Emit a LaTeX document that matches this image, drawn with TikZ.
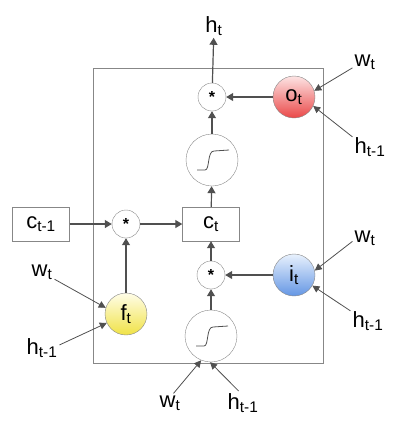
\documentclass[tikz,border=0pt]{standalone}
\usepackage{fontspec}
\setmainfont{Liberation Sans}
\usetikzlibrary{arrows.meta}

\definecolor{lineg}{RGB}{80,80,80}
\definecolor{edgeg}{RGB}{135,135,135}
\definecolor{otop}{RGB}{253,228,228}
\definecolor{omid}{RGB}{246,160,160}
\definecolor{obot}{RGB}{234,72,72}
\definecolor{itop}{RGB}{232,241,253}
\definecolor{imid}{RGB}{175,205,245}
\definecolor{ibot}{RGB}{100,150,228}
\definecolor{ftop}{RGB}{255,253,232}
\definecolor{fmid}{RGB}{252,245,160}
\definecolor{fbot}{RGB}{240,226,70}

\newcommand{\lsub}[2]{#1\textsubscript{#2}}
\newcommand{\prodsym}{\raisebox{-0.45ex}{\textbf{*}}}

\tikzset{
  txt/.style={font=\fontsize{22}{25}\selectfont, inner sep=2pt},
  gate/.style={circle, draw=edgeg, minimum size=42pt, inner sep=0pt, font=\fontsize{22}{25}\selectfont},
  mult/.style={circle, draw=edgeg, fill=white, minimum size=28pt, inner sep=0pt, font=\fontsize{16}{18}\selectfont},
  squash/.style={circle, draw=edgeg, minimum size=52pt, inner sep=0pt},
  cellbox/.style={draw=edgeg, minimum width=57pt, minimum height=34pt, inner sep=0pt, font=\fontsize{22}{25}\selectfont},
  flow/.style={lineg, line width=1.2pt, -{Triangle[length=7pt,width=8pt]}},
  feed/.style={lineg, line width=0.8pt, -{Triangle[length=7pt,width=7pt]}},
  sigm/.style={lineg, line width=0.8pt}
}

\begin{document}
\begin{tikzpicture}[x=1pt, y=-1pt]

  \useasboundingbox (0,0) rectangle (416,424);

  % cell border
  \draw[edgeg, line width=0.8pt] (93,68) rectangle (323,363);

  % cell state line
  \node[cellbox] (cprev) at (41,224) {\lsub{c}{t-1}};
  \node[mult] (mf) at (126,224) {\prodsym};
  \node[cellbox] (ct) at (211,224) {\lsub{c}{t}};

  % gates
  \node[gate, top color=otop, middle color=omid, bottom color=obot] (ot) at (294,97) {\lsub{o}{t}};
  \node[gate, top color=itop, middle color=imid, bottom color=ibot] (it) at (294,275) {\lsub{i}{t}};
  \node[gate, top color=ftop, middle color=fmid, bottom color=fbot] (ft) at (126,314) {\lsub{f}{t}};

  % products and squashing units
  \node[mult] (mt) at (212,97) {\prodsym};
  \node[squash] (st) at (212,160) {};
  \node[mult] (mi) at (211,275) {\prodsym};
  \node[squash] (si) at (211,336) {};

  \draw[sigm, shift={(st.center)}]
    (-15,10) -- (-7,10) .. controls (-2,10) and (-5,-9) .. (2,-9) -- (17,-10);
  \draw[sigm, shift={(si.center)}]
    (-15,10) -- (-7,10) .. controls (-2,10) and (-5,-9) .. (2,-9) -- (17,-10);

  % output label
  \node[txt] (hout) at (214,26) {\lsub{h}{t}};

  % inputs
  \node[txt] (wo) at (365,62) {\lsub{w}{t}};
  \node[txt] (ho) at (370,147) {\lsub{h}{t-1}};
  \node[txt] (wi) at (365,238) {\lsub{w}{t}};
  \node[txt] (hi) at (368,321) {\lsub{h}{t-1}};
  \node[txt] (wf) at (42,272) {\lsub{w}{t}};
  \node[txt] (hf) at (42,348) {\lsub{h}{t-1}};
  \node[txt] (ws) at (170,403) {\lsub{w}{t}};
  \node[txt] (hs) at (243,403) {\lsub{h}{t-1}};

  % main flow
  \draw[flow] (cprev) -- (mf);
  \draw[flow] (mf) -- (ct);
  \draw[flow] (ft) -- (mf);
  \draw[flow] (si) -- (mi);
  \draw[flow] (mi) -- (ct);
  \draw[flow] (it) -- (mi);
  \draw[flow] (ct) -- (st);
  \draw[flow] (st) -- (mt);
  \draw[flow] (ot) -- (mt);
  \draw[flow] (mt) -- (hout);

  % gate inputs
  \draw[feed] (wo.205) -- (ot.17);
  \draw[feed] (ho.150) -- (ot.-25);
  \draw[feed] (wi.195) -- (it.12);
  \draw[feed] (hi.150) -- (it.-30);
  \draw[feed] (wf.-30) -- (ft.163);
  \draw[feed] (hf.10) -- (ft.205);
  \draw[feed] (ws.70) -- (si.-112);
  \draw[feed] (hs.110) -- (si.-92);

\end{tikzpicture}
\end{document}
